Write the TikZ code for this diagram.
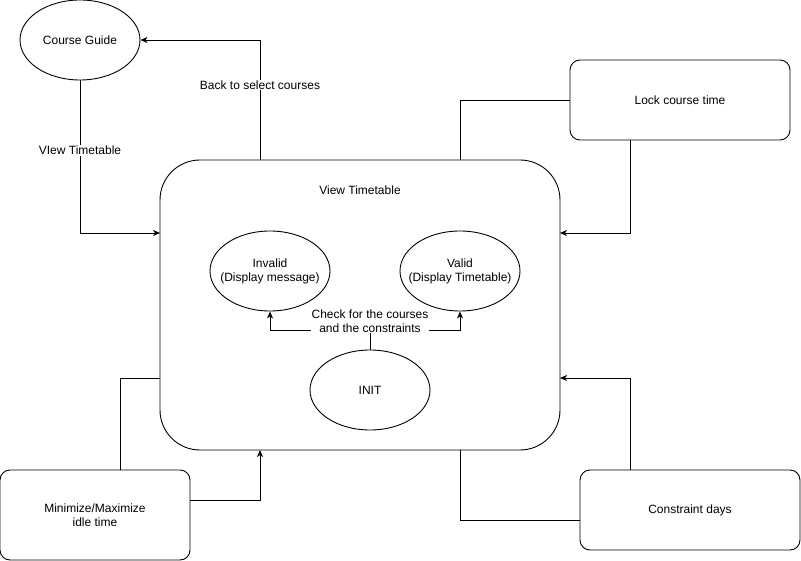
\documentclass[tikz,border=0pt]{standalone}
\usepackage{fontspec}
\setmainfont{Liberation Sans}
\usetikzlibrary{arrows.meta,shapes.geometric}
\begin{document}
\begin{tikzpicture}[x=1pt,y=-1pt,line width=0.9pt,
  font=\fontsize{12}{14}\selectfont,
  ell/.style={draw,ellipse,minimum width=120pt,minimum height=80pt,inner ysep=0pt,inner xsep=-16pt,align=center},
  rbox/.style={draw,rectangle,rounded corners=10pt,inner sep=0pt,align=center},
  arr/.style={-{Stealth[length=7pt,width=6pt,inset=2pt]}},
  lbl/.style={fill=white,inner sep=1pt,align=center}]
\fill[white] (0,0) rectangle (801,561);
\useasboundingbox (0,0) rectangle (801,561);
% nodes
\node[ell] (cg) at (80,40) {Course Guide};
\node[rbox,minimum width=400pt,minimum height=290pt,rounded corners=40pt] (vt) at (360,305) {};
\node (vtt) at (360,190) {View Timetable};
\node[ell] (inv) at (270,271) {Invalid\\(Display message)};
\node[ell] (val) at (460,271) {Valid\\(Display Timetable)};
\node[ell] (init) at (370,390) {INIT};
\node[rbox,minimum width=220pt,minimum height=80pt] (lock) at (680,100) {Lock course time};
\node[rbox,minimum width=220pt,minimum height=80pt] (cd) at (690,510) {Constraint days};
\node[rbox,minimum width=190pt,minimum height=90pt] (mm) at (95,515) {Minimize/Maximize\\idle time};
% anchor coordinates
\coordinate (vtL1) at (160,233);
\coordinate (vtL2) at (160,378);
\coordinate (vtT1) at (260,160);
\coordinate (vtT2) at (460,160);
\coordinate (vtR1) at (560,233);
\coordinate (vtR2) at (560,378);
\coordinate (vtB1) at (260,450);
\coordinate (vtB2) at (460,450);
\coordinate (lockB) at (630,140);
\coordinate (cdT) at (630,470);
\coordinate (cdL) at (580,520);
\coordinate (mmT) at (120,470);
\coordinate (mmR) at (190,500);
\coordinate (split) at (370,330);
% connectors
\draw[arr] (cg.south) -- node[lbl,pos=0.46]{VIew Timetable} (cg.south |- vtL1) -- (vtL1);
\draw[arr] (vtT1) -- node[lbl,pos=0.625]{Back to select courses} (vtT1 |- cg.east) -- (cg.east);
\draw (vtT2) |- (lock.west);
\draw[arr] (lockB) |- (vtR1);
\draw (cdL) -| (vtB2);
\draw[arr] (cdT) |- (vtR2);
\draw (mmT) |- (vtL2);
\draw[arr] (mmR) -| (vtB1);
\draw (init.north) -- (split);
\draw[arr] (split) -| (inv.south);
\draw[arr] (split) -| (val.south);
\node[lbl] (chk) at (370,321) {Check for the courses\\and the constraints};
\end{tikzpicture}
\end{document}
